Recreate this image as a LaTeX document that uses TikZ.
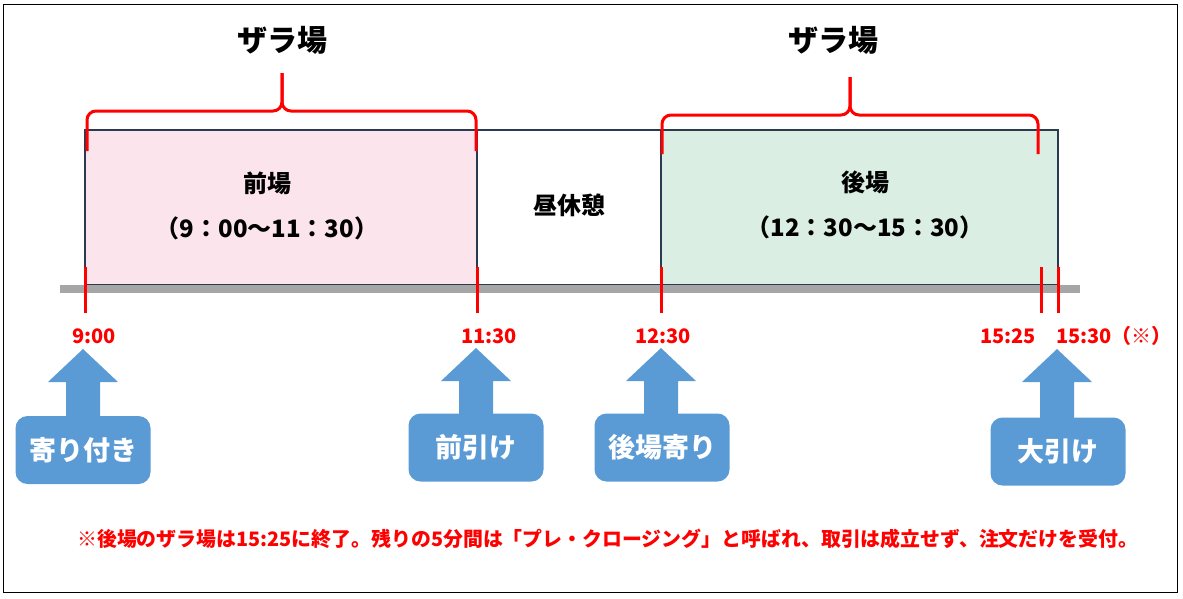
\documentclass[tikz,border=0pt]{standalone}
\usepackage{fontspec}
\setmainfont{Noto Sans CJK JP}
\usetikzlibrary{calc}
\definecolor{MarkRed}{HTML}{FF0000}
\definecolor{CallBlue}{HTML}{5B9BD5}
\definecolor{ZenPink}{HTML}{FCE4EC}
\definecolor{GoGreen}{HTML}{DAEEE3}
\definecolor{BoxEdge}{HTML}{2A3B50}
\definecolor{RailGray}{HTML}{A6A6A6}

\begin{document}
\begin{tikzpicture}[x=1pt, y=-1pt,
    session/.style={draw=BoxEdge, line width=2pt},
    sessiontext/.style={align=center, inner sep=0pt, font=\fontsize{24}{45}\selectfont\bfseries},
    zaratitle/.style={inner sep=0pt, font=\fontsize{30}{36}\selectfont\bfseries},
    brace/.style={MarkRed, line width=3pt, rounded corners=9pt},
    tick/.style={MarkRed, line width=3pt},
    timelabel/.style={MarkRed, inner sep=0pt, font=\fontsize{20}{24}\selectfont\bfseries},
    callbox/.style={fill=CallBlue, rounded corners=12pt, minimum width=135, minimum height=68,
        inner sep=0pt, text=white, font=\fontsize{27}{32}\selectfont\bfseries},
    callarrow/.style={fill=CallBlue}]
    \useasboundingbox (0,0) rectangle (1183,598);

    % Outer frame
    \draw[line width=1pt] (3,4) rectangle (1177,592);

    % Sessions
    \filldraw[session, fill=ZenPink] (85,130) rectangle (477,285);
    \draw[session] (477,130) rectangle (661,285);
    \filldraw[session, fill=GoGreen] (661,130) rectangle (1058,285);
    \node[sessiontext] (zenba) at (267,206) {前場\\（9：00～11：30）};
    \node[sessiontext] (hiru) at (569,205) {昼休憩};
    \node[sessiontext] (goba) at (865,205) {後場\\（12：30～15：30）};

    % Time axis
    \draw[RailGray, line width=8pt] (60,289) -- (1080,289);
    \foreach \tx in {85,477,661,1041,1058}
        \draw[tick] (\tx,267) -- (\tx,313);

    % Braces and titles
    \draw[brace] (87,151) -- (87,111) -- (282,111) -- (282,73);
    \draw[brace] (282,73) -- (282,111) -- (476,111) -- (476,151);
    \node[zaratitle] (zaraA) at (282,40) {ザラ場};
    \draw[brace] (662,154) -- (662,115) -- (850,115) -- (850,77);
    \draw[brace] (850,77) -- (850,115) -- (1038,115) -- (1038,154);
    \node[zaratitle] (zaraB) at (833,40) {ザラ場};

    % Time labels
    \node[timelabel] (t900) at (94,336) {9:00};
    \node[timelabel] (t1130) at (489,336) {11:30};
    \node[timelabel] (t1230) at (663,336) {12:30};
    \node[timelabel] (t1525) at (1008,336) {15:25};
    \node[timelabel, anchor=west] (t1530) at (1056,336) {15:30（※）};

    % Call-outs
    \coordinate (tipA) at (83,349);
    \node[callbox] (yoritsuki) at (83,450) {寄り付き};
    \fill[callarrow] ($(yoritsuki.north)+(-17,1)$) |- ($(tipA)+(-35,33)$) -- (tipA)
        -- ($(tipA)+(35,33)$) -| ($(yoritsuki.north)+(17,1)$) -- cycle;

    \coordinate (tipB) at (476,348);
    \node[callbox] (zenbiki) at (476,447.5) {前引け};
    \fill[callarrow] ($(zenbiki.north)+(-17,1)$) |- ($(tipB)+(-35,33)$) -- (tipB)
        -- ($(tipB)+(35,33)$) -| ($(zenbiki.north)+(17,1)$) -- cycle;

    \coordinate (tipC) at (661,348);
    \node[callbox] (gobayori) at (662,447.5) {後場寄り};
    \fill[callarrow] ($(gobayori.north)+(-18,1)$) |- ($(tipC)+(-35,33)$) -- (tipC)
        -- ($(tipC)+(35,33)$) -| ($(gobayori.north)+(16,1)$) -- cycle;

    \coordinate (tipD) at (1057,349);
    \node[callbox] (oobiki) at (1058,451.5) {大引け};
    \fill[callarrow] ($(oobiki.north)+(-18,1)$) |- ($(tipD)+(-35,33)$) -- (tipD)
        -- ($(tipD)+(35,33)$) -| ($(oobiki.north)+(16,1)$) -- cycle;

    % Note
    \node[MarkRed, anchor=west, inner sep=0pt, font=\fontsize{19.9}{24}\selectfont\bfseries] (note) at (77,539)
        {※後場のザラ場は15:25に終了。残りの5分間は「プレ・クロージング」と呼ばれ、取引は成立せず、注文だけを受付。};

\end{tikzpicture}
\end{document}
